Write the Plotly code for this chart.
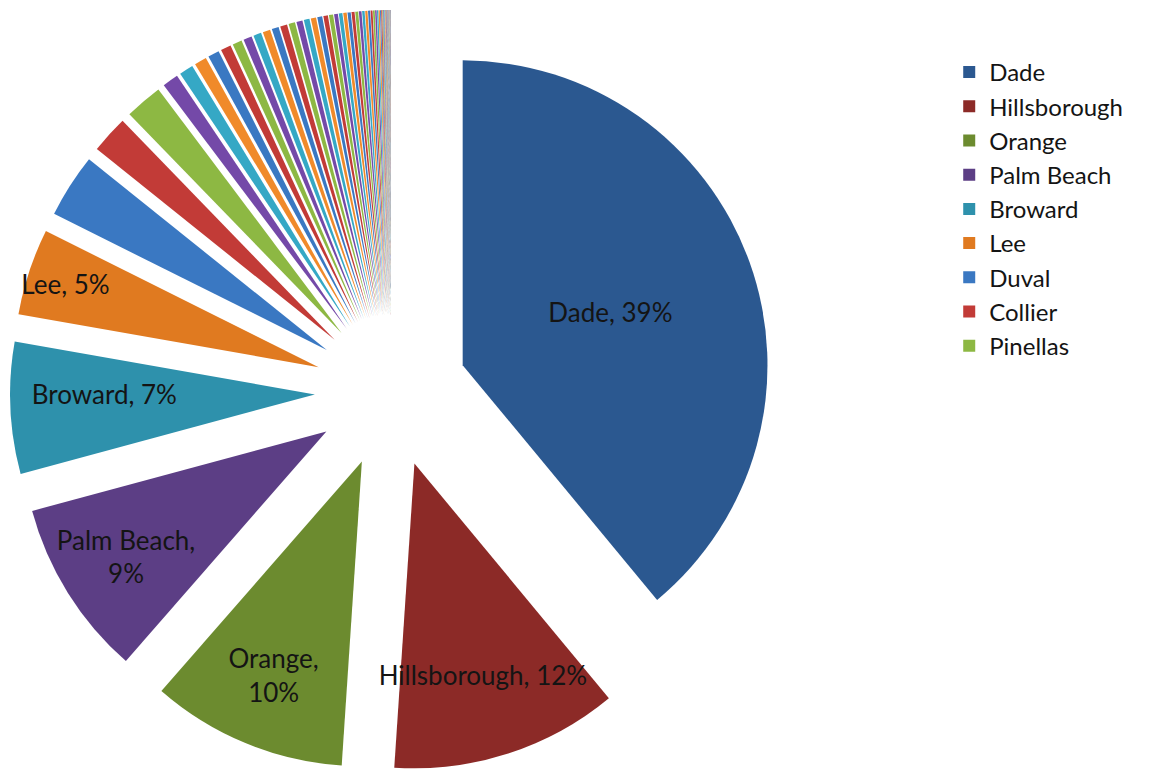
import plotly.graph_objects as go

# ---- data (share of total) ----
main_counties = ["Dade", "Hillsborough", "Orange", "Palm Beach", "Broward",
                 "Lee", "Duval", "Collier", "Pinellas"]
main_values = [39.1, 12.1, 10.4, 9.4, 7.0, 4.6, 3.4, 2.0, 2.0]

other_counties = ["Polk", "Brevard", "Volusia", "Seminole", "Pasco", "Sarasota",
                  "Manatee", "Osceola", "Marion", "Lake", "St. Lucie", "Escambia",
                  "Leon", "Alachua", "St. Johns", "Okaloosa", "Martin", "Charlotte",
                  "Hernando", "Bay", "Santa Rosa", "Indian River", "Citrus", "Clay",
                  "Monroe", "Sumter", "Flagler", "Highlands", "Nassau", "Putnam",
                  "Columbia", "Walton", "Jackson", "Gadsden", "Suwannee", "Hendry",
                  "Okeechobee", "Levy", "DeSoto", "Wakulla", "Baker", "Hardee",
                  "Bradford", "Washington", "Taylor", "Holmes", "Madison", "Gilchrist",
                  "Dixie", "Gulf", "Union", "Calhoun", "Hamilton", "Jefferson",
                  "Glades", "Franklin", "Lafayette", "Liberty"]
other_values = [0.85, 0.75, 0.65, 0.6, 0.55, 0.5, 0.45, 0.42, 0.4, 0.37,
                0.37, 0.34, 0.32, 0.3, 0.28, 0.26, 0.24, 0.22, 0.2, 0.19,
                0.18, 0.17, 0.16, 0.15, 0.14, 0.13, 0.12, 0.11, 0.1, 0.09,
                0.08, 0.07, 0.06, 0.05, 0.05, 0.04, 0.04, 0.03, 0.03, 0.03,
                0.02, 0.02, 0.02, 0.02, 0.01, 0.01, 0.01, 0.01, 0.01, 0.01,
                0.01, 0.01, 0.01, 0.005, 0.005, 0.005, 0.005, 0.005]

labeled = ["Dade", "Hillsborough", "Orange", "Palm Beach", "Broward", "Lee"]
two_line = ["Orange", "Palm Beach"]

counties = main_counties + other_counties
values = main_values + other_values

# ---- style ----
first_cycle = ["#2B5890", "#8C2A27", "#6C8B2F", "#5C3E85", "#2E91AC", "#E07A20"]
later_cycle = ["#3A78C2", "#C23B37", "#8DB843", "#7449A8", "#35A8C5", "#F08A2A"]
colors = [(first_cycle if i < 6 else later_cycle)[i % 6] for i in range(len(counties))]

FONT = "Lato, Calibri, sans-serif"
total = sum(values)
texts = []
for c, v in zip(counties, values):
    if c in labeled:
        sep = ",<br>" if c in two_line else ", "
        texts.append(f"{c}{sep}{round(100 * v / total)}%")
    else:
        texts.append("")

fig = go.Figure()

# main exploded pie (no legend)
fig.add_trace(go.Pie(
    labels=counties, values=values, sort=False, direction="clockwise",
    rotation=0, pull=0.25, showlegend=False,
    marker=dict(colors=colors, line=dict(width=0)),
    text=texts, textinfo="text", textposition="inside",
    insidetextorientation="horizontal",
    textfont=dict(family=FONT, size=26, color="#141414"),
    hoverinfo="label+percent",
    domain=dict(x=[0.0, 0.6592], y=[0, 1]),
))

# legend carrier: only the first nine counties (drawn invisibly small)
n_leg = len(main_counties)
fig.add_trace(go.Pie(
    labels=counties[:n_leg], values=values[:n_leg], sort=False,
    direction="clockwise", showlegend=True, textinfo="none",
    marker=dict(colors=colors[:n_leg], line=dict(width=0)),
    hoverinfo="skip",
    domain=dict(x=[0.9995, 1.0], y=[0.0, 0.0005]),
))

fig.update_layout(
    width=1162, height=769,
    margin=dict(l=0, r=0, t=1.75, b=4.75, autoexpand=False),
    paper_bgcolor="white", plot_bgcolor="white",
    uniformtext=dict(minsize=26, mode="show"),
    legend=dict(x=0.810, y=0.9475, xanchor="left", yanchor="top",
                font=dict(family=FONT, size=24, color="#141414"),
                bgcolor="rgba(0,0,0,0)", traceorder="normal"),
)

fig.write_html("out.html")
